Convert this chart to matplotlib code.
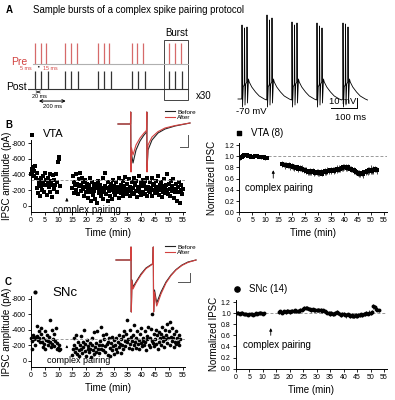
import matplotlib
matplotlib.use("Agg")
import matplotlib.pyplot as plt
from matplotlib.lines import Line2D
from matplotlib.patches import Rectangle
import numpy as np

plt.rcParams['font.family'] = ['Liberation Sans', 'DejaVu Sans']
plt.rcParams['axes.unicode_minus'] = False

# ---- panel A: pairing protocol raster (ms)
burst_onsets = [0, 190, 395, 605, 840]
pre_offsets = [0, 35, 70]
post_offsets = [0, 38, 80]

# ---- panel A: current clamp trace (ms, mV)
vm_onsets = [0, 100, 200, 300, 404]
vm_peaks = [[2, -1, 0], [12, 7, 9], [5, 2, 4], [4, 1, -1], [4, 3, 0]]
vm_tmpl_t = [0, 3, 6, 9, 10, 13, 16, 20, 23, 27, 30, 40, 55, 70, 90, 99]
vm_tmpl_v = [-72, -80, -60, -58, -58, -78, -57, -55, -76, -52, -55, -60, -65, -69, -72, -73]

# ---- panel B: VTA raw IPSC amplitudes (pA), every 0.25 min
vta_pre = [-400, -470, -430, -500, -380, -450, -510, -360, -420,
           -230, -160, -330, -280, -120, -250, -350, -200,
           -300, -380, -170, -420, -260, -330, -140, -290,
           -350, -240, -410, -180, -310, -270, -110, -390,
           -220, -330, -260, -400, -180, -300, -565, -630, -600, -250]
vta_post = [-230, -380, -160, -300, -260, -410, -200, -280,
            -150, -340, -250, -420, -190, -270, -360, -220,
            -300, -120, -240, -330, -180, -280, -100, -230,
            -260, -170, -350, -60, -210, -300, -140, -250,
            -190, -80, -280, -230, -40, -320, -160, -210,
            -270, -120, -230, -180, -350, -90, -200, -250,
            -420, -150, -230, -60, -300, -190, -240, -130,
            -280, -200, -90, -330, -170, -250, -140, -220,
            -300, -180, -240, -100, -350, -210, -160, -270,
            -200, -310, -130, -250, -180, -370, -220, -150,
            -280, -190, -340, -120, -240, -200, -300, -160,
            -230, -350, -150, -260, -190, -320, -110, -240,
            -200, -380, -170, -290, -140, -250, -330, -180,
            -270, -150, -310, -210, -360, -130, -240, -190,
            -300, -170, -230, -350, -120, -260, -200, -280,
            -160, -320, -240, -190, -380, -140, -220, -270,
            -200, -300, -110, -250, -180, -340, -230, -160,
            -260, -200, -400, -150, -280, -220, -130, -310,
            -190, -250, -340, -100, -220, -170, -280, -210,
            -60, -240, -180, -300, -40, -200, -260, -150, -220]
vta_outlier = (0.2, -910)

# ---- panel B: VTA normalized (n=8), every 0.5 min
vta_norm_pre = [0.97, 0.99, 1.01, 1.03, 1.03, 1.02, 1.01, 1.0, 0.99, 0.98, 0.99,
                1.0, 1.01, 1.0, 0.99, 0.98, 0.98, 0.99, 0.98, 0.97, 0.97]
vta_norm_post = [0.86, 0.85, 0.84, 0.85, 0.83, 0.84, 0.82, 0.83,
                 0.81, 0.80, 0.79, 0.80, 0.78, 0.79, 0.77, 0.78, 0.75, 0.76,
                 0.74, 0.72, 0.71, 0.73, 0.72, 0.74, 0.71, 0.70, 0.72, 0.71,
                 0.70, 0.72, 0.69, 0.71, 0.73, 0.72, 0.74, 0.73, 0.75, 0.74,
                 0.76, 0.74, 0.75, 0.77, 0.76, 0.78, 0.77, 0.79, 0.80, 0.81,
                 0.80, 0.79, 0.81, 0.78, 0.77, 0.76, 0.75, 0.74, 0.72, 0.70,
                 0.69, 0.68, 0.70, 0.69, 0.71, 0.72, 0.74, 0.73, 0.75, 0.76,
                 0.74, 0.75, 0.77, 0.76, 0.75]
vta_err_pre = [0.03, 0.02, 0.03, 0.02, 0.03, 0.02, 0.02, 0.03, 0.02, 0.02, 0.03,
               0.02, 0.02, 0.03, 0.02, 0.02, 0.03, 0.02, 0.02, 0.03, 0.02]
vta_err_post = [0.05, 0.04, 0.06, 0.05, 0.04, 0.05, 0.06, 0.05,
                0.05, 0.06, 0.04, 0.05, 0.06, 0.05, 0.04, 0.06, 0.05, 0.05,
                0.06, 0.05, 0.04, 0.06, 0.05, 0.05, 0.06, 0.04, 0.05, 0.06,
                0.05, 0.06, 0.05, 0.04, 0.06, 0.05, 0.06, 0.05, 0.04, 0.06,
                0.05, 0.06, 0.05, 0.07, 0.05, 0.06, 0.05, 0.06, 0.07, 0.05,
                0.06, 0.05, 0.06, 0.05, 0.06, 0.05, 0.06, 0.05, 0.06, 0.05,
                0.06, 0.05, 0.06, 0.07, 0.05, 0.06, 0.05, 0.07, 0.06, 0.08,
                0.06, 0.07, 0.06, 0.05, 0.06]

# ---- panel C: SNc raw IPSC amplitudes (pA), every 0.25 min
snc_pre = [-300, -260, -150, -330, -280, -310, -200, -290,
           -320, -450, -270, -380, -300, -240, -420, -350,
           -250, -180, -300, -220, -380, -150, -270, -330,
           -200, -260, -310, -520, -240, -180, -400, -220,
           -280, -350, -190, -260, -420, -150, -230, -170,
           -140, -200, -150]
snc_post = [-80, -150, -300, -200, -120, -330, -170, -90,
            -240, -140, -60, -210, -320, -160, -100, -250,
            -180, -400, -130, -220, -70, -270, -150, -190,
            -110, -230, -160, -50, -200, -300, -140, -90,
            -370, -180, -230, -120, -380, -150, -210, -100,
            -260, -160, -430, -200, -330, -140, -280, -190,
            -120, -350, -220, -80, -250, -300, -170, -60,
            -230, -140, -310, -190, -90, -270, -200, -160,
            -300, -120, -250, -340, -180, -220, -100, -280,
            -200, -320, -150, -380, -260, -190, -350, -240,
            -530, -280, -170, -400, -220, -310, -150, -260,
            -330, -200, -460, -240, -170, -300, -380, -220,
            -270, -150, -350, -230, -420, -190, -300, -260,
            -200, -380, -250, -140, -320, -280, -430, -210,
            -300, -180, -410, -260, -600, -230, -350, -190,
            -280, -400, -220, -330, -150, -370, -250, -300,
            -200, -350, -430, -260, -310, -180, -400, -280,
            -330, -230, -470, -290, -380, -200, -500, -310,
            -260, -420, -300, -180, -350, -240, -380, -220,
            -300, -250, -330, -200, -280]
snc_outlier = (1.4, -880)

# ---- panel C: SNc normalized (n=14), every 0.5 min
snc_norm_pre = [1.0, 1.01, 0.99, 1.0, 1.01, 0.99, 0.98, 0.99, 0.97, 0.98, 0.98,
                0.99, 0.97, 0.98, 1.0, 0.99, 1.0, 1.01, 1.0, 0.99, 1.0]
snc_norm_post = [1.02, 1.03, 1.01, 1.02, 1.03, 1.02, 1.04, 1.03, 1.02,
                 1.03, 1.04, 1.03, 1.05, 1.04, 1.03, 1.04, 1.05, 1.06, 1.07,
                 1.09, 1.10, 1.09, 1.08, 1.07, 1.06, 1.07, 1.05, 1.06, 1.05,
                 1.06, 1.05, 1.06, 1.04, 1.05, 1.03, 1.02, 1.01, 1.00, 0.99,
                 1.0, 0.98, 0.99, 1.01, 1.02, 1.0, 0.98, 0.97, 0.99, 0.98,
                 0.97, 0.96, 0.98, 0.97, 0.95, 0.96, 0.94, 0.95, 0.96, 0.95,
                 0.97, 0.96, 0.98, 0.97, 0.99, 0.98, 1.0, 0.99, 1.01, 1.0,
                 1.02, 1.12, 1.11, 1.08, 1.06, 1.05]
snc_err_pre = [0.02] * 21
snc_err_post = [0.03, 0.02, 0.03, 0.03, 0.02, 0.03, 0.04, 0.03, 0.03,
                0.03, 0.04, 0.03, 0.03, 0.04, 0.03, 0.03, 0.04, 0.03, 0.04,
                0.04, 0.03, 0.04, 0.03, 0.03, 0.04, 0.03, 0.03, 0.04, 0.03,
                0.04, 0.03, 0.03, 0.04, 0.03, 0.03, 0.04, 0.03, 0.03, 0.04,
                0.03, 0.04, 0.03, 0.03, 0.04, 0.03, 0.03, 0.04, 0.03, 0.04,
                0.03, 0.04, 0.03, 0.04, 0.03, 0.04, 0.03, 0.03, 0.04, 0.03,
                0.04, 0.03, 0.03, 0.04, 0.03, 0.04, 0.03, 0.03, 0.04, 0.03,
                0.04, 0.04, 0.03, 0.04, 0.03, 0.03]

# ---- example IPSC traces (ms, pA)
b_trace_t = [0, 12.5, 12.7, 13.0, 13.5, 15, 18, 22, 26, 28.5, 28.8, 29.0, 30, 34, 40, 47, 57, 72]
b_before = [0, 0, 60, -235, -150, -195, -130, -85, -55, -40, 60, -235, -130, -80, -45, -25, -10, 5]
b_after = [0, 0, 60, -240, -120, -155, -105, -70, -45, -32, 60, -240, -105, -65, -38, -20, -8, 5]
c_trace_t = [0, 14.8, 15.0, 15.3, 16, 17, 20, 25, 30, 36.8, 37.3, 37.6, 38.5, 40.7, 45, 50, 55, 60, 66, 72, 80]
c_before = [0, 0, 65, -260, -100, -135, -110, -70, -40, -18, 65, -260, -150, -215, -160, -110, -75, -48, -25, -10, 0]
c_after = [0, 0, 65, -260, -105, -145, -115, -75, -43, -20, 65, -260, -160, -230, -170, -115, -78, -50, -27, -12, 0]

amp_ticks = [0, -200, -400, -600, -800]
norm_ticks = [0.0, 0.2, 0.4, 0.6, 0.8, 1.0, 1.2]

RED = '#d2413f'
PINK = '#d66a6a'

W, H = 395, 400
fig = plt.figure(figsize=(W / 100, H / 100), dpi=100)


def box(x0, y0, x1, y1):
    return fig.add_axes([x0 / W, 1 - y1 / H, (x1 - x0) / W, (y1 - y0) / H])


def ftext(x, y, s, **kw):
    kw.setdefault('va', 'center')
    fig.text(x / W, 1 - y / H, s, **kw)


def style(ax):
    for s in ['top', 'right']:
        ax.spines[s].set_visible(False)
    for s in ['left', 'bottom']:
        ax.spines[s].set_linewidth(0.7)
    ax.tick_params(labelsize=5, length=2, width=0.6, pad=1.5)
    ax.set_xlim(0, 56)
    ax.set_xticks(range(0, 56, 5))


def amp_axis(ax):
    ax.set_yticks(amp_ticks)
    ax.set_yticklabels([str(v) for v in amp_ticks])
    ax.set_ylabel('IPSC amplitude (pA)', fontsize=7)
    ax.yaxis.set_label_coords(-0.123, 0.5)
    ax.set_xlabel('Time (min)', fontsize=7, labelpad=3)


def norm_axis(ax, lx):
    ax.set_ylim(0, 1.236)
    ax.set_yticks(norm_ticks)
    ax.set_yticklabels(['%.1f' % v for v in norm_ticks])
    ax.set_ylabel('Normalized IPSC', fontsize=7)
    ax.yaxis.set_label_coords(lx, 0.5)
    ax.set_xlabel('Time (min)', fontsize=7, labelpad=3)
    ax.axhline(1.0, color='#999999', lw=0.7, ls=(0, (3, 2)))


# ================= A
ftext(6, 10, 'A', fontsize=7, fontweight='bold')
ftext(33, 10, 'Sample bursts of a complex spike pairing protocol', fontsize=6.9)

ax = box(28, 30, 190, 110)
ax.axis('off')
ax.set_xlim(-44, 969)
ax.set_ylim(-2.12, 1.6)
pre_t = [b + o for b in burst_onsets for o in pre_offsets]
post_t = [b + o for b in burst_onsets for o in post_offsets]
ax.vlines(pre_t, 0, 1, color=PINK, lw=0.9)
ax.vlines(post_t, -1.16, -0.3, color='#333333', lw=0.9)
ax.axhline(0, 0.03, 0.99, color='#b0b0b0', lw=0.8)
ax.axhline(-1.16, 0.0, 0.99, color='#333333', lw=0.8)
ax.add_patch(Rectangle((burst_onsets[-1] - 34, -1.65), 150, 2.78,
                       fill=False, ec='#444444', lw=0.7))
ftext(177, 33, 'Burst', fontsize=7, ha='center')
ftext(27, 62, 'Pre', fontsize=7.5, color=RED, ha='right')
ftext(27, 87, 'Post', fontsize=7.5, ha='right')
ftext(26, 69, '5 ms', fontsize=3.8, color=RED, ha='center')
ftext(50, 68, '15 ms', fontsize=3.8, color=RED, ha='center')
ax.annotate('', xy=(0.048, 0.54), xytext=(0.085, 0.54), xycoords='axes fraction',
            arrowprops=dict(arrowstyle='-', lw=1.0, color='black'))
ftext(39, 96.5, '20 ms', fontsize=4, ha='center')
ax.annotate('', xy=(0.04, 0.225), xytext=(0.085, 0.225), xycoords='axes fraction',
            arrowprops=dict(arrowstyle='<->', lw=0.5, color='black', mutation_scale=4))
ftext(53, 107, '200 ms', fontsize=4.2, ha='center')
ax.annotate('', xy=(0.05, 0.112), xytext=(0.25, 0.112), xycoords='axes fraction',
            arrowprops=dict(arrowstyle='<->', lw=0.7, color='black', mutation_scale=5))
ftext(196, 96, 'x30', fontsize=7)

# voltage trace
ax = box(230, 10, 372, 112)
ax.axis('off')
ax.set_xlim(-47, 521)
ax.set_ylim(-85, 17)
vt, vv = [-15], [-72]
for on, pk in zip(vm_onsets, vm_peaks):
    for t, v in zip(vm_tmpl_t, vm_tmpl_v):
        vt.append(on + t)
        vv.append(v)
        if t in (0, 10, 20):
            vt.append(on + t + 1)
            vv.append(pk[[0, 10, 20].index(t)])
ax.plot(vt, vv, color='black', lw=0.6)
ax.plot([357, 461, 461], [-81, -81, -71], color='black', lw=0.7, clip_on=False)
ftext(251, 112, '-70 mV', fontsize=6.8, ha='center')
ftext(343, 102, '10 mV', fontsize=6.8, ha='center')
ftext(351, 118, '100 ms', fontsize=6.8, ha='center')

# ================= B left
ftext(5, 125, 'B', fontsize=7, fontweight='bold')
ax = box(31, 140, 185.4, 212)
style(ax)
t_pre = np.arange(len(vta_pre)) * 0.25
t_post = 15 + np.arange(len(vta_post)) * 0.25
ax.scatter(t_pre, vta_pre, marker='s', s=7, color='black', lw=0, clip_on=False)
ax.scatter(t_post, vta_post, marker='s', s=7, color='black', lw=0, clip_on=False)
ax.scatter([vta_outlier[0]], [vta_outlier[1]], marker='s', s=9, color='black', lw=0, clip_on=False)
ax.axhline(-330, color='#999999', lw=0.7, ls=(0, (3, 2)))
ax.set_ylim(81, -842)
amp_axis(ax)
ax.annotate('', xy=(13, -135), xytext=(13, -40),
            arrowprops=dict(arrowstyle='-|>', lw=0.6, color='black', mutation_scale=4))
ax.text(8, -10, 'complex pairing', fontsize=7, va='top')
ftext(43, 134, 'VTA', fontsize=8)

# B inset traces
ax = box(115, 105, 195, 178)
ax.axis('off')
ax.set_xlim(-3, 77)
ax.set_ylim(-270, 95)
ax.plot(b_trace_t, b_before, color='#222222', lw=0.8)
ax.plot(b_trace_t, b_after, color=RED, lw=0.8)
ax.plot([62, 70.3, 70.3], [-113, -113, -55], color='#555555', lw=0.7)
ax.legend([Line2D([], [], color='#222222', lw=0.8), Line2D([], [], color=RED, lw=0.8)],
          ['Before', 'After'], fontsize=4.6, frameon=False, handlelength=1.6,
          handletextpad=0.3, labelspacing=0.05, borderpad=0, loc='upper left',
          bbox_to_anchor=(162 / W, 1 - 106 / H), bbox_transform=fig.transFigure)

# ================= B right
ax = box(239, 143, 386.6, 212.3)
style(ax)
tn_pre = 0.5 + np.arange(len(vta_norm_pre)) * 0.5
tn_post = 16.5 + np.arange(len(vta_norm_post)) * 0.5
for tt, yy, ee in [(tn_pre, vta_norm_pre, vta_err_pre), (tn_post, vta_norm_post, vta_err_post)]:
    ax.errorbar(tt, yy, yerr=ee, fmt='s', ms=2.6, color='black', ecolor='black',
                elinewidth=0.5, capsize=0.8, capthick=0.5, mew=0)
norm_axis(ax, -0.148)
ax.annotate('', xy=(13, 0.80), xytext=(13, 0.56),
            arrowprops=dict(arrowstyle='-|>', lw=0.6, color='black', mutation_scale=4))
ax.text(2.2, 0.43, 'complex pairing', fontsize=7, va='center')
ax.scatter([0.0], [1.42], marker='s', s=12, color='black', clip_on=False)
ax.text(4.5, 1.42, 'VTA (8)', fontsize=7, va='center')

# ================= C left
ftext(5, 282, 'C', fontsize=7, fontweight='bold')
ax = box(31, 296, 185.4, 367)
style(ax)
t_pre = np.arange(len(snc_pre)) * 0.25
t_post = 15 + np.arange(len(snc_post)) * 0.25
ax.scatter(t_pre, snc_pre, marker='o', s=7, color='black', lw=0, clip_on=False)
ax.scatter(t_post, snc_post, marker='o', s=7, color='black', lw=0, clip_on=False)
ax.scatter([snc_outlier[0]], [snc_outlier[1]], marker='o', s=9, color='black', lw=0, clip_on=False)
ax.axhline(-280, color='#999999', lw=0.7, ls=(0, (3, 2)))
ax.set_ylim(77, -834)
amp_axis(ax)
ax.annotate('', xy=(13, -240), xytext=(13, -140),
            arrowprops=dict(arrowstyle='-|>', lw=0.6, color='black', mutation_scale=3))
ax.text(5.7, -10, 'complex pairing', fontsize=6.5, va='center')
ftext(52, 293, 'SNc', fontsize=9.5)

# C inset traces
ax = box(112, 240, 200, 318)
ax.axis('off')
ax.set_xlim(-4, 84)
ax.set_ylim(-290, 100)
ax.plot(c_trace_t, c_before, color='#222222', lw=0.8)
ax.plot(c_trace_t, c_after, color=RED, lw=0.8)
ax.plot([62, 74, 74], [-110, -110, -65], color='#555555', lw=0.7)
ax.legend([Line2D([], [], color='#222222', lw=0.8), Line2D([], [], color=RED, lw=0.8)],
          ['Before', 'After'], fontsize=4.6, frameon=False, handlelength=1.6,
          handletextpad=0.3, labelspacing=0.05, borderpad=0, loc='upper left',
          bbox_to_anchor=(162 / W, 1 - 241 / H), bbox_transform=fig.transFigure)

# ================= C right
ax = box(235.7, 300, 386.7, 368.7)
style(ax)
tn_pre = 0.5 + np.arange(len(snc_norm_pre)) * 0.5
tn_post = 16 + np.arange(len(snc_norm_post)) * 0.5
for tt, yy, ee in [(tn_pre, snc_norm_pre, snc_err_pre), (tn_post, snc_norm_post, snc_err_post)]:
    ax.errorbar(tt, yy, yerr=ee, fmt='o', ms=2.8, color='black', ecolor='black',
                elinewidth=0.5, capsize=0.8, capthick=0.5, mew=0)
norm_axis(ax, -0.11)
ax.annotate('', xy=(13, 0.78), xytext=(13, 0.55),
            arrowprops=dict(arrowstyle='-|>', lw=0.6, color='black', mutation_scale=4))
ax.text(2.8, 0.43, 'complex pairing', fontsize=7, va='center')
ax.scatter([0.3], [1.43], marker='o', s=14, color='black', clip_on=False)
ax.text(4.8, 1.43, 'SNc (14)', fontsize=7, va='center')

fig.savefig('out.png', dpi=100)
